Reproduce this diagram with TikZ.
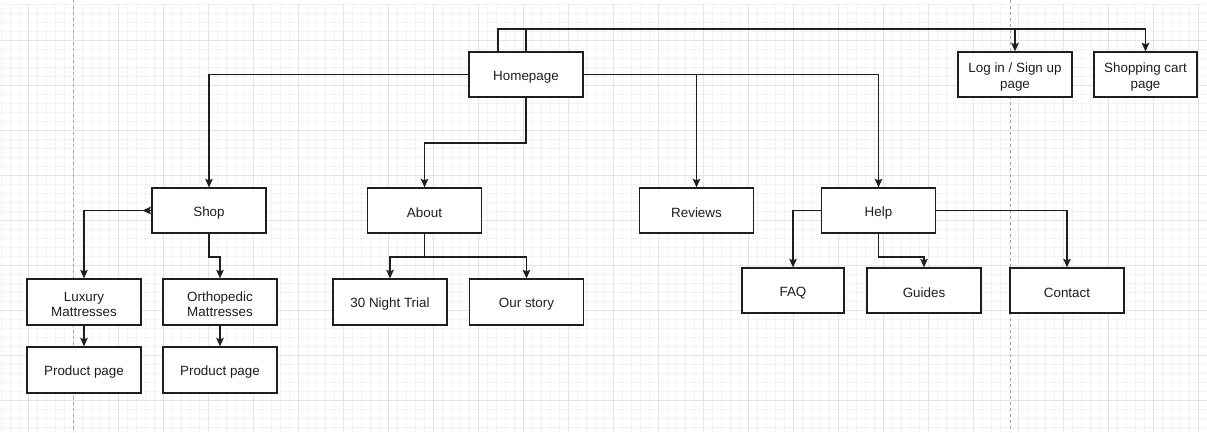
\documentclass[tikz,border=0pt]{standalone}
\usepackage{fontspec}
\setmainfont{Liberation Sans}
\usetikzlibrary{arrows.meta}
\definecolor{ink}{HTML}{1E1E1E}
\definecolor{gminor}{HTML}{F3F3F3}
\definecolor{gmajor}{HTML}{E4E4E4}
\definecolor{guide}{HTML}{A8A8A8}
\tikzset{
  pagebox/.style={draw=ink, line width=1.3pt, fill=white, rectangle,
    minimum width=114pt, minimum height=45pt, inner sep=0pt},
  boxtext/.style={inner sep=0pt, align=center, text=ink,
    font=\fontsize{13.4}{15.3}\selectfont},
  arr/.style={draw=ink, line width=1.2pt, -{Stealth[length=8.5pt,width=7.5pt,inset=1.5pt]}},
  gridminor/.style={draw=gminor, line width=0.6pt},
  gridmajor/.style={draw=gmajor, line width=0.7pt},
  guideline/.style={draw=guide, line width=0.7pt, dash pattern=on 3pt off 3pt}
}
\begin{document}
\begin{tikzpicture}[x=1pt,y=-1pt]
\useasboundingbox (0,0) rectangle (1207,432);
\fill[white] (0,0) rectangle (1207,432);
% background grid
\foreach \gx in {1,10,...,1207} {\draw[gridminor] (\gx,4) -- (\gx,432);}
\foreach \gy in {4,13,...,432} {\draw[gridminor] (1,\gy) -- (1207,\gy);}
\foreach \gx in {28,73,...,1207} {\draw[gridmajor] (\gx,4) -- (\gx,432);}
\foreach \gy in {40,85,...,432} {\draw[gridmajor] (1,\gy) -- (1207,\gy);}
% guide lines
\draw[guideline] (73,0) -- (73,432);
\draw[guideline] (1010,0) -- (1010,432);

% boxes
\node[pagebox] (home) at (526,74.5) {};
\node[pagebox] (login) at (1015,74.5) {};
\node[pagebox, minimum width=103pt] (cart) at (1145.5,74.5) {};
\node[pagebox] (shop) at (209,210.5) {};
\node[pagebox] (about) at (424.5,210.5) {};
\node[pagebox] (reviews) at (696.5,210.5) {};
\node[pagebox] (help) at (878.5,210.5) {};
\node[pagebox, minimum height=46pt] (luxury) at (84,302) {};
\node[pagebox, minimum height=46pt] (ortho) at (220,302) {};
\node[pagebox, minimum height=46pt] (prodA) at (84,370) {};
\node[pagebox, minimum height=46pt] (prodB) at (220,370) {};
\node[pagebox, minimum height=46pt] (trial) at (390,302) {};
\node[pagebox, minimum height=46pt] (story) at (526.5,302) {};
\node[pagebox, minimum width=102pt] (faq) at (793,290.5) {};
\node[pagebox] (guides) at (924,290.5) {};
\node[pagebox] (contact) at (1067,290.5) {};

% texts
\node[boxtext] (homeT) at ([yshift=-2.5pt]home.center) {Homepage};
\node[boxtext] (loginT) at ([yshift=-2.5pt]login.center) {Log in / Sign up\\page};
\node[boxtext] (cartT) at ([yshift=-2.5pt]cart.center) {Shopping cart\\page};
\node[boxtext] (shopT) at ([yshift=-2.5pt]shop.center) {Shop};
\node[boxtext] (aboutT) at ([yshift=-2.5pt]about.center) {About};
\node[boxtext] (reviewsT) at ([yshift=-2.5pt]reviews.center) {Reviews};
\node[boxtext] (helpT) at ([yshift=-2.5pt]help.center) {Help};
\node[boxtext] (luxuryT) at ([yshift=-2.5pt]luxury.center) {Luxury\\Mattresses};
\node[boxtext] (orthoT) at ([yshift=-2.5pt]ortho.center) {Orthopedic\\Mattresses};
\node[boxtext] (prodAT) at ([yshift=-2.5pt]prodA.center) {Product page};
\node[boxtext] (prodBT) at ([yshift=-2.5pt]prodB.center) {Product page};
\node[boxtext] (trialT) at ([yshift=-2.5pt]trial.center) {30 Night Trial};
\node[boxtext] (storyT) at ([yshift=-2.5pt]story.center) {Our story};
\node[boxtext] (faqT) at ([yshift=-2.5pt]faq.center) {FAQ};
\node[boxtext] (guidesT) at ([yshift=-2.5pt]guides.center) {Guides};
\node[boxtext] (contactT) at ([yshift=-2.5pt]contact.center) {Contact};

% connectors
\draw[arr] ([xshift=-28pt]home.north) -- ([xshift=-28pt]home.north |- 0,29) -| (login.north);
\draw[arr] (home.north) -- (home.north |- 0,29) -| (cart.north);
\draw[arr] (home.west) -| (shop.north);
\draw[arr] (home.south) -- (home.south |- 0,143) -| (about.north);
\draw[arr] (home.east) -| (reviews.north);
\draw[arr] (home.east) -| (help.north);

\coordinate (shopleft) at ([xshift=-9pt]shop.west);
\draw[arr] (shop.west) -| (luxury.north);
\draw[arr] (shop.west) -- (shopleft);
\draw[arr] (shop.south) -- (shop.south |- 0,257) -| (ortho.north);
\draw[arr] (luxury.south) -- (prodA.north);
\draw[arr] (ortho.south) -- (prodB.north);

\draw[arr] (about.south) -- (about.south |- 0,257) -| (trial.north);
\draw[arr] (about.south |- 0,257) -| (story.north);

\draw[arr] (help.west) -| (faq.north);
\draw[arr] (help.south) -- (help.south |- 0,257) -| (guides.north);
\draw[arr] (help.east) -| (contact.north);
\end{tikzpicture}
\end{document}
